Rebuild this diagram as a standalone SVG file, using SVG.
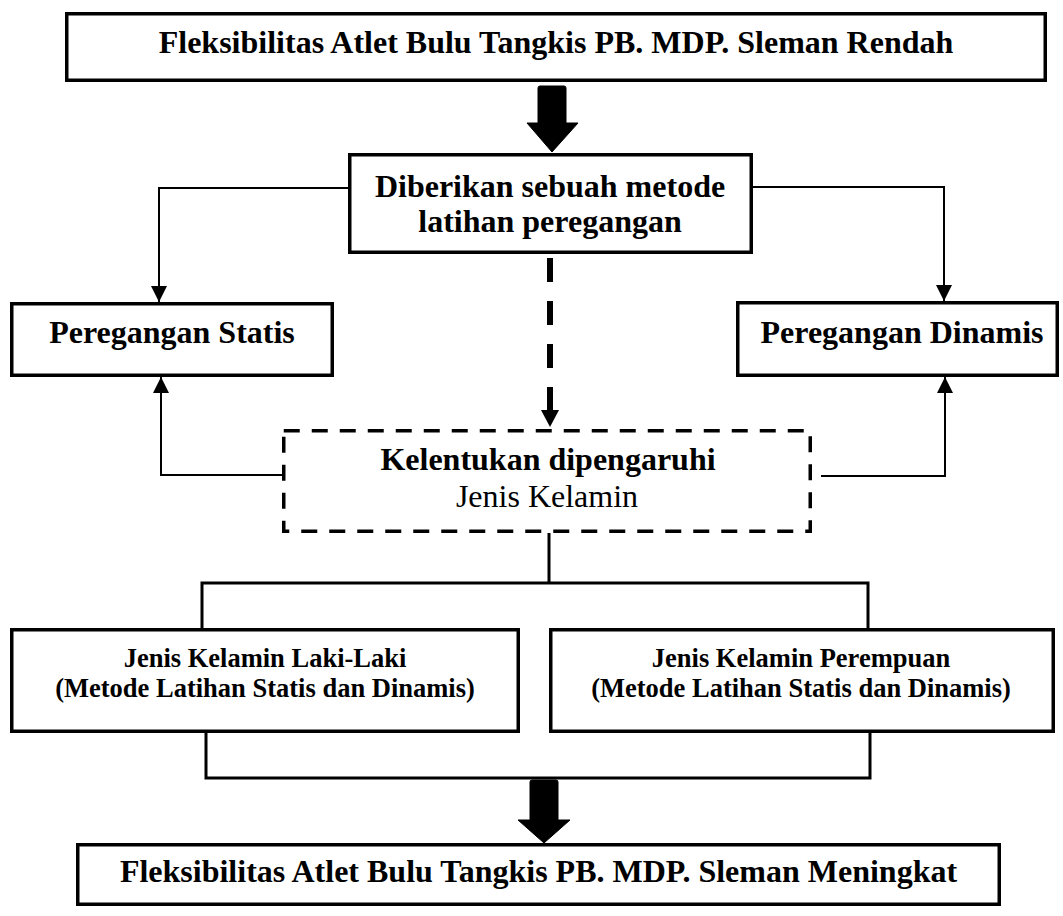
<svg xmlns="http://www.w3.org/2000/svg" width="1063" height="916" viewBox="0 0 1063 916">
<style>
.box{fill:#fff;stroke:#000;stroke-width:3.5}
.dbox{fill:#fff;stroke:#000;stroke-width:3.5;stroke-dasharray:16 12}
.t{font-family:"Liberation Serif","Times New Roman",serif;font-weight:bold;font-size:32px;text-anchor:middle;fill:#000}
.r{font-weight:normal}
.s{font-size:26.5px}
.thin{fill:none;stroke:#000;stroke-width:2}
.mid{fill:none;stroke:#000;stroke-width:3}
.big{fill:#000;stroke:#000;stroke-width:1;stroke-linejoin:round}
</style>
<defs>
<marker id="ah" viewBox="0 0 16 16" refX="16" refY="8" markerWidth="16" markerHeight="16" markerUnits="userSpaceOnUse" orient="auto">
<path d="M0,0 L16,8 L0,16 Z" fill="#000"/>
</marker>
</defs>
<rect width="1063" height="916" fill="#fff"/>
<g id="connectors">
<path class="big" d="M540,86 H564 Q566,86 566,88 V123 H578 L552,152 L527,123 H538 V88 Q538,86 540,86 Z"/>
<polyline class="thin" points="348,188 159,188 159,302" marker-end="url(#ah)"/>
<polyline class="thin" points="753,187 944,187 944,301" marker-end="url(#ah)"/>
<line x1="550" y1="258" x2="550" y2="411" stroke="#000" stroke-width="6" stroke-dasharray="24 19"/>
<polygon points="541,410 559,410 550,427" fill="#000"/>
<polyline class="thin" points="292,475 161,475 161,377" marker-end="url(#ah)"/>
<polyline class="thin" points="821,476 945,476 945,377" marker-end="url(#ah)"/>
<polyline class="mid" points="549,533 549,583"/>
<polyline class="mid" points="202,628 202,583 868,583 868,628"/>
<polyline class="mid" points="206,733 206,778 870,778 870,733"/>
<path class="big" d="M532,780 H556 Q558,780 558,782 V820 H570 L544,843 L518,820 H530 V782 Q530,780 532,780 Z"/>
</g>
<g id="node-top">
<rect class="box" x="66.75" y="13.75" width="978.5" height="66.5"/>
<text class="t" x="556" y="53">Fleksibilitas Atlet Bulu Tangkis PB. MDP. Sleman Rendah</text>
</g>
<g id="node-metode">
<rect class="box" x="349.75" y="154.75" width="401.5" height="97.5"/>
<text class="t" x="550" y="197">Diberikan sebuah metode</text>
<text class="t" x="550" y="232">latihan peregangan</text>
</g>
<g id="node-statis">
<rect class="box" x="11.75" y="303.75" width="320.5" height="71.5"/>
<text class="t" x="172" y="343">Peregangan Statis</text>
</g>
<g id="node-dinamis">
<rect class="box" x="737.75" y="302.75" width="319.5" height="72.5"/>
<text class="t" x="902" y="343">Peregangan Dinamis</text>
</g>
<g id="node-kelentukan">
<rect class="dbox" x="283.75" y="430.75" width="526.5" height="100.5"/>
<text class="t" x="548" y="470">Kelentukan dipengaruhi</text>
<text class="t r" x="547" y="507">Jenis Kelamin</text>
</g>
<g id="node-laki">
<rect class="box" x="11.75" y="629.75" width="506.5" height="101.5"/>
<text class="t s" x="265" y="667">Jenis Kelamin Laki-Laki</text>
<text class="t s" x="265" y="697">(Metode Latihan Statis dan Dinamis)</text>
</g>
<g id="node-perempuan">
<rect class="box" x="550.75" y="629.75" width="502.5" height="101.5"/>
<text class="t s" x="801" y="667">Jenis Kelamin Perempuan</text>
<text class="t s" x="801" y="697">(Metode Latihan Statis dan Dinamis)</text>
</g>
<g id="node-bottom">
<rect class="box" x="77.75" y="844.75" width="921.5" height="59.5"/>
<text class="t" x="538.5" y="882">Fleksibilitas Atlet Bulu Tangkis PB. MDP. Sleman Meningkat</text>
</g>
</svg>
